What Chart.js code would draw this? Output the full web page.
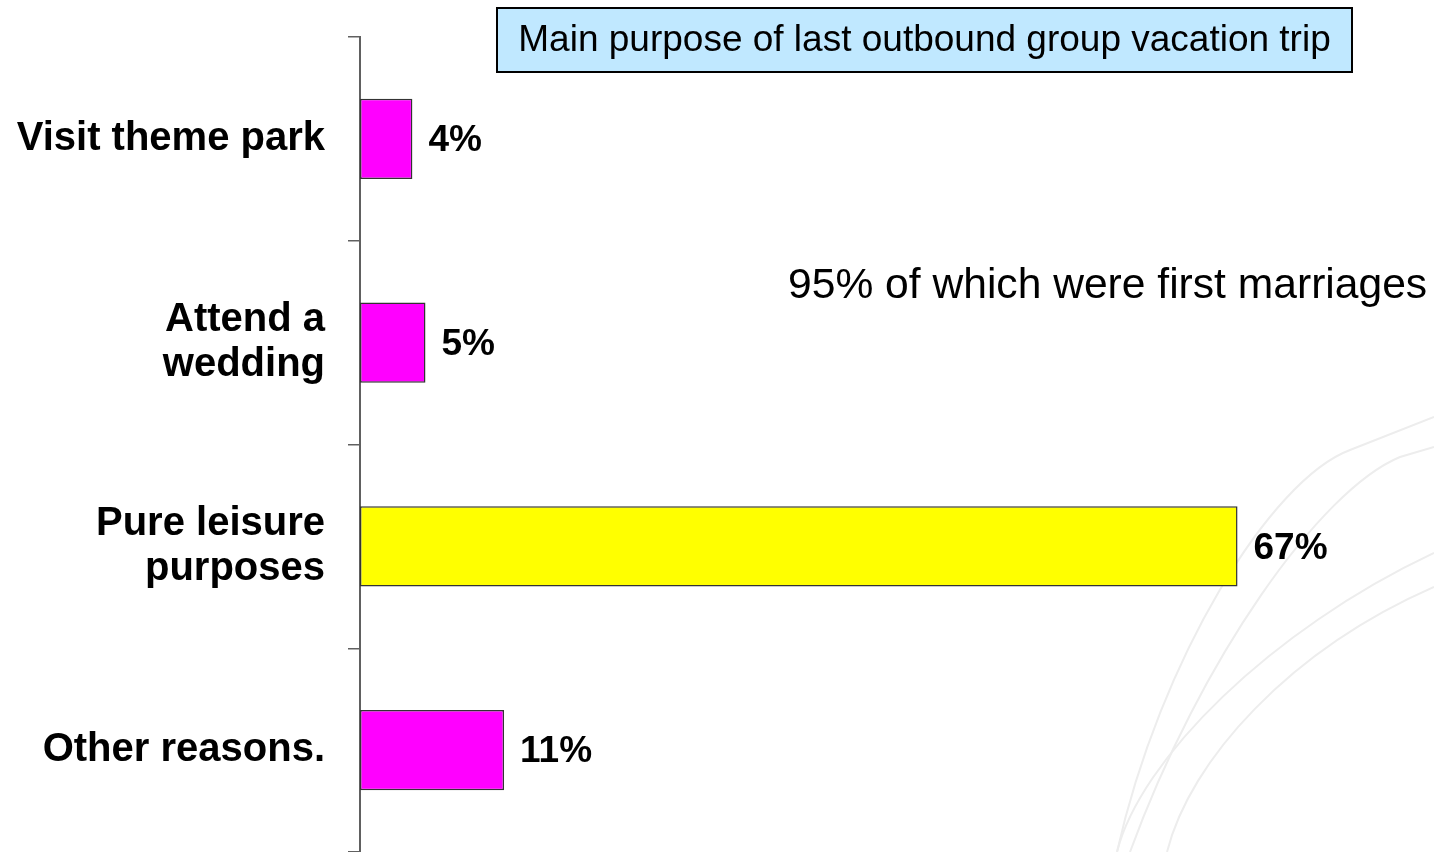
<!DOCTYPE html>
<html>
<head>
<meta charset="utf-8">
<title>Main purpose of last outbound group vacation trip</title>
<script src="https://cdn.jsdelivr.net/npm/chart.js@4/dist/chart.umd.min.js"></script>
<style>
	html, body { margin: 0; padding: 0; background: #fff; }
	#wrap { width: 1434px; height: 852px; position: relative; }
</style>
</head>
<body>
<div id="wrap"><canvas id="purpose-chart"></canvas></div>
<script>
// survey answers, share of respondents in %
var purposeLabels = [['Visit theme park'], ['Attend a', 'wedding'], ['Pure leisure', 'purposes'], ['Other reasons.']];
var purposeShares = [4, 5, 67, 11];
var barColors = ['#ff00ff', '#ff00ff', '#ffff00', '#ff00ff'];

var titleText = 'Main purpose of last outbound group vacation trip';
var noteText = '95% of which were first marriages';

const FONT = '"Liberation Sans", Arial, sans-serif';

// faint swooshes in the lower right corner
const backdrop = {
	id: 'backdrop',
	beforeDraw(chart) {
		const ctx = chart.ctx;
		ctx.save();
		ctx.fillStyle = '#fff';
		ctx.fillRect(0, 0, chart.width, chart.height);
		ctx.strokeStyle = '#ededed';
		ctx.lineWidth = 2;
		const curves = [
			[1434, 417, 1350, 450, 1270, 480, 1160, 660, 1117, 852],
			[1434, 447, 1400, 457, 1320, 490, 1200, 660, 1130, 852],
			[1434, 553, 1434, 553, 1270, 630, 1140, 760, 1117, 852],
			[1434, 587, 1434, 587, 1290, 650, 1190, 760, 1167, 852]
		];
		curves.forEach(function (c) {
			ctx.beginPath();
			ctx.moveTo(c[0], c[1]);
			ctx.lineTo(c[2], c[3]);
			ctx.bezierCurveTo(c[4], c[5], c[6], c[7], c[8], c[9]);
			ctx.stroke();
		});
		ctx.restore();
	}
};

// percentage next to each bar, title box and side note
const annotations = {
	id: 'annotations',
	afterDatasetsDraw(chart) {
		const ctx = chart.ctx;
		const meta = chart.getDatasetMeta(0);
		ctx.save();
		ctx.fillStyle = '#000';
		ctx.font = 'bold 37px ' + FONT;
		ctx.textAlign = 'left';
		ctx.textBaseline = 'middle';
		meta.data.forEach(function (bar, i) {
			ctx.fillText(purposeShares[i] + '%', bar.x + 16, bar.y + 2);
		});

		// title box
		ctx.fillStyle = '#c0e8ff';
		ctx.fillRect(497, 8, 855, 64);
		ctx.strokeStyle = '#000';
		ctx.lineWidth = 2;
		ctx.strokeRect(497, 8, 855, 64);
		ctx.fillStyle = '#000';
		ctx.font = '37px ' + FONT;
		ctx.textAlign = 'center';
		ctx.fillText(titleText, 924.5, 41);

		ctx.font = '42.6px ' + FONT;
		ctx.textAlign = 'left';
		ctx.fillText(noteText, 788, 286);
		ctx.restore();
	}
};

const purposeChart = document.getElementById('purpose-chart');
new Chart(purposeChart, {
	type: 'bar',
	data: {
		labels: purposeLabels,
		datasets: [{
			data: purposeShares,
			backgroundColor: barColors,
			borderColor: '#333',
			borderWidth: 1.5,
			borderSkipped: false,
			categoryPercentage: 1,
			barPercentage: 0.395
		}]
	},
	options: {
		indexAxis: 'y',
		responsive: true,
		maintainAspectRatio: false,
		animation: false,
		layout: { padding: { top: 37, right: 0, bottom: 0, left: 0 } },
		plugins: {
			legend: { display: false },
			tooltip: { enabled: false }
		},
		scales: {
			x: {
				display: false,
				min: 0,
				max: 82
			},
			y: {
				offset: true,
				afterFit(scale) {
					scale.width = 360;
					scale.paddingTop = 0;
					scale.paddingBottom = 0;
				},
				border: { display: true, color: '#606060', width: 2 },
				grid: {
					offset: true,
					drawOnChartArea: false,
					drawTicks: true,
					tickLength: 12,
					color: '#606060',
					lineWidth: 1.5
				},
				ticks: {
					color: '#000',
					padding: 23,
					font: { family: FONT, size: 40, weight: 'bold', lineHeight: 1.14 }
				}
			}
		}
	},
	plugins: [backdrop, annotations]
});
</script>
</body>
</html>
